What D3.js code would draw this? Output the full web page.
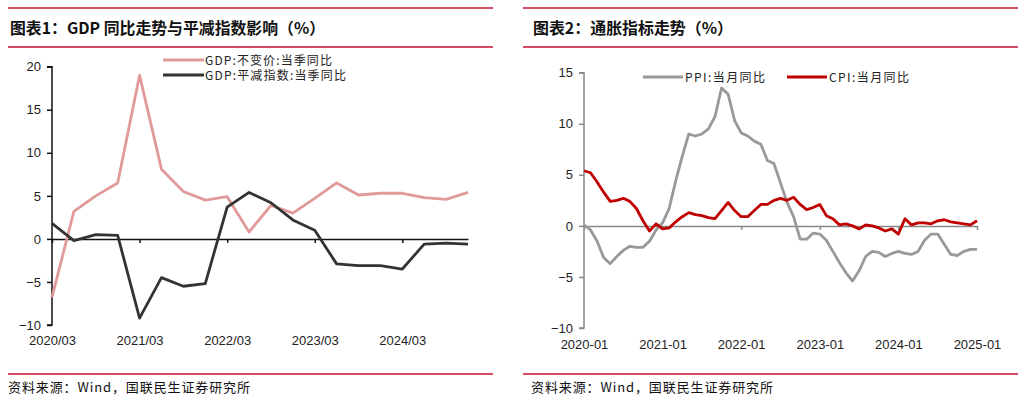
<!DOCTYPE html>
<html>
<head>
<meta charset="utf-8">
<script src="https://cdn.jsdelivr.net/npm/d3@7"></script>
<style>
  body { margin: 0; background: #fff; }
  svg { display: block; }
  .tick text { font-family: "Liberation Sans", Arial, sans-serif; font-size: 13px; fill: #222; }
  .cjk { font-family: "Noto Sans CJK SC", sans-serif; }
</style>
</head>
<body>
<div id="content"></div>
<script>
let width = 1029;
let height = 395;

// Chart 1: quarterly GDP
let quarters = ["2020/03","2020/06","2020/09","2020/12","2021/03","2021/06","2021/09","2021/12",
    "2022/03","2022/06","2022/09","2022/12","2023/03","2023/06","2023/09","2023/12",
    "2024/03","2024/06","2024/09","2024/12"];
let gdpReal = [-6.8, 3.2, 5.0, 6.5, 19.0, 8.1, 5.5, 4.5, 4.9, 0.8, 3.9, 3.0,
    4.7, 6.5, 5.1, 5.3, 5.3, 4.8, 4.6, 5.4];
let gdpDeflator = [1.8, -0.2, 0.5, 0.4, -9.2, -4.5, -5.5, -5.2, 3.7, 5.4, 4.2, 2.2,
    1.0, -2.9, -3.1, -3.1, -3.5, -0.6, -0.5, -0.6];
let yTicks1 = [-10, -5, 0, 5, 10, 15, 20];
let xTicks1 = ["2020/03","2021/03","2022/03","2023/03","2024/03"];

// Chart 2: monthly CPI / PPI
let months = [];
for (let y = 2020; y <= 2025; y++) {
    for (let m = 1; m <= 12; m++) {
        if (y === 2025 && m > 1) break;
        months.push(y + "-" + (m < 10 ? "0" + m : m));
    }
}
let ppi = [0.1, -0.4, -1.5, -3.1, -3.7, -3.0, -2.4, -2.0, -2.1, -2.1, -1.5, -0.4,
    0.3, 1.7, 4.4, 6.8, 9.0, 8.8, 9.0, 9.5, 10.7, 13.5, 12.9, 10.3,
    9.1, 8.8, 8.3, 8.0, 6.4, 6.1, 4.2, 2.3, 0.9, -1.3, -1.3, -0.7,
    -0.8, -1.4, -2.5, -3.6, -4.6, -5.4, -4.4, -3.0, -2.5, -2.6, -3.0, -2.7,
    -2.5, -2.7, -2.8, -2.5, -1.4, -0.8, -0.8, -1.8, -2.8, -2.9, -2.5, -2.3,
    -2.3];
let cpi = [5.4, 5.2, 4.3, 3.3, 2.4, 2.5, 2.7, 2.4, 1.7, 0.5, -0.5, 0.2,
    -0.3, -0.2, 0.4, 0.9, 1.3, 1.1, 1.0, 0.8, 0.7, 1.5, 2.3, 1.5,
    0.9, 0.9, 1.5, 2.1, 2.1, 2.5, 2.7, 2.5, 2.8, 2.1, 1.6, 1.8,
    2.1, 1.0, 0.7, 0.1, 0.2, 0.0, -0.3, 0.1, 0.0, -0.2, -0.5, -0.3,
    -0.8, 0.7, 0.1, 0.3, 0.3, 0.2, 0.5, 0.6, 0.4, 0.3, 0.2, 0.1,
    0.5];
let yTicks2 = [-10, -5, 0, 5, 10, 15];
let xTicks2 = ["2020-01","2021-01","2022-01","2023-01","2024-01","2025-01"];

let ruleColor = "#C8102E";

let svg = d3.select("#content")
    .append("svg")
    .attr("width", width)
    .attr("height", height);

// Header / footer rules and texts for both panels
function frame(x0, x1, title, tx, tlen) {
    [8, 47, 374].forEach(function(y) {
        svg.append("line")
            .attr("x1", x0).attr("x2", x1)
            .attr("y1", y).attr("y2", y)
            .attr("stroke", ruleColor)
            .attr("stroke-width", 1.3);
    });
    svg.append("text")
        .attr("class", "cjk")
        .attr("x", tx).attr("y", 33.5)
        .attr("font-size", 16)
        .attr("font-weight", "bold")
        .attr("fill", "#111")
        .attr("textLength", tlen)
        .attr("lengthAdjust", "spacingAndGlyphs")
        .text(title);
    svg.append("text")
        .attr("class", "cjk")
        .attr("x", tx - 2).attr("y", 392)
        .attr("font-size", 13)
        .attr("fill", "#111")
        .attr("textLength", 242)
        .attr("lengthAdjust", "spacing")
        .text("资料来源：Wind，国联民生证券研究所");
}
frame(8, 493, "图表1：GDP 同比走势与平减指数影响（%）", 10, 315);
frame(523, 1018, "图表2：通胀指标走势（%）", 533, 200);

// ---------- Chart 1 ----------
let x1 = d3.scalePoint().domain(quarters).range([52, 468]);
let y1 = d3.scaleLinear().domain([-10, 20]).range([325, 66.7]);

let yAxis1 = svg.append("g")
    .attr("transform", "translate(52,0)")
    .call(d3.axisLeft(y1).tickValues(yTicks1).tickSize(5).tickPadding(6).tickFormat(d3.format("d")));
yAxis1.selectAll("line").attr("stroke", "#111").attr("stroke-width", 1.5);
yAxis1.select(".domain").attr("stroke", "#111").attr("stroke-width", 1.5).attr("d", "M-5,325H0V66.7H-5");
yAxis1.selectAll("text").text(function(d) { return d < 0 ? "\u2212" + Math.abs(d) : d; });

let xAxis1 = svg.append("g")
    .attr("transform", "translate(0," + y1(0) + ")")
    .call(d3.axisBottom(x1).tickValues(xTicks1).tickSize(4).tickSizeOuter(0));
xAxis1.select(".domain").attr("stroke", "#111").attr("stroke-width", 1.5);
xAxis1.selectAll("line").attr("stroke", "#111").attr("stroke-width", 1.5);
xAxis1.selectAll("text").attr("y", 106).attr("dy", "0");

let line1 = d3.line()
    .x(function(d, i) { return x1(quarters[i]); })
    .y(function(d) { return y1(d); });

svg.append("path")
    .datum(gdpReal)
    .attr("fill", "none")
    .attr("stroke", "#E09A9A")
    .attr("stroke-width", 2.8)
    .attr("stroke-linejoin", "round")
    .attr("d", line1);

svg.append("path")
    .datum(gdpDeflator)
    .attr("fill", "none")
    .attr("stroke", "#333333")
    .attr("stroke-width", 2.8)
    .attr("stroke-linejoin", "round")
    .attr("d", line1);

// legend 1
let legend1 = [
    {label: "GDP:不变价:当季同比", color: "#E09A9A", y: 60, len: 127},
    {label: "GDP:平减指数:当季同比", color: "#333333", y: 75, len: 141}
];
legend1.forEach(function(l) {
    svg.append("line")
        .attr("x1", 163).attr("x2", 204)
        .attr("y1", l.y).attr("y2", l.y)
        .attr("stroke", l.color).attr("stroke-width", 3);
    svg.append("text")
        .attr("class", "cjk")
        .attr("x", 205).attr("y", l.y + 4.5)
        .attr("font-size", 12)
        .attr("fill", "#222")
        .attr("textLength", l.len)
        .attr("lengthAdjust", "spacing")
        .text(l.label);
});

// ---------- Chart 2 ----------
let x2 = d3.scalePoint().domain(months).range([584, 977]);
let y2 = d3.scaleLinear().domain([-10, 15]).range([328, 72.7]);
let axisGray = "#888";

let yAxis2 = svg.append("g")
    .attr("transform", "translate(584,0)")
    .call(d3.axisLeft(y2).tickValues(yTicks2).tickSize(5).tickPadding(6).tickFormat(d3.format("d")));
yAxis2.selectAll("line").attr("stroke", axisGray).attr("stroke-width", 1.5);
yAxis2.select(".domain").attr("stroke", axisGray).attr("stroke-width", 1.5).attr("d", "M-5,328H0V72.7H-5");
yAxis2.selectAll("text").text(function(d) { return d < 0 ? "\u2212" + Math.abs(d) : d; });

let xAxis2 = svg.append("g")
    .attr("transform", "translate(0," + y2(0) + ")")
    .call(d3.axisBottom(x2).tickValues(xTicks2).tickSize(4).tickSizeOuter(0));
xAxis2.select(".domain").attr("stroke", axisGray).attr("stroke-width", 1.5);
xAxis2.selectAll("line").attr("stroke", axisGray).attr("stroke-width", 1.5);
xAxis2.selectAll("text").attr("y", 123).attr("dy", "0");

let line2 = d3.line()
    .x(function(d, i) { return x2(months[i]); })
    .y(function(d) { return y2(d); });

svg.append("path")
    .datum(ppi)
    .attr("fill", "none")
    .attr("stroke", "#999999")
    .attr("stroke-width", 2.8)
    .attr("stroke-linejoin", "round")
    .attr("d", line2);

svg.append("path")
    .datum(cpi)
    .attr("fill", "none")
    .attr("stroke", "#C00000")
    .attr("stroke-width", 2.8)
    .attr("stroke-linejoin", "round")
    .attr("d", line2);

// legend 2
let legend2 = [
    {label: "PPI:当月同比", color: "#999999", x: 643},
    {label: "CPI:当月同比", color: "#C00000", x: 787}
];
legend2.forEach(function(l) {
    svg.append("line")
        .attr("x1", l.x).attr("x2", l.x + 40)
        .attr("y1", 77).attr("y2", 77)
        .attr("stroke", l.color).attr("stroke-width", 3);
    svg.append("text")
        .attr("class", "cjk")
        .attr("x", l.x + 42).attr("y", 81.5)
        .attr("font-size", 12)
        .attr("fill", "#222")
        .attr("textLength", 80)
        .attr("lengthAdjust", "spacing")
        .text(l.label);
});
</script>
</body>
</html>
